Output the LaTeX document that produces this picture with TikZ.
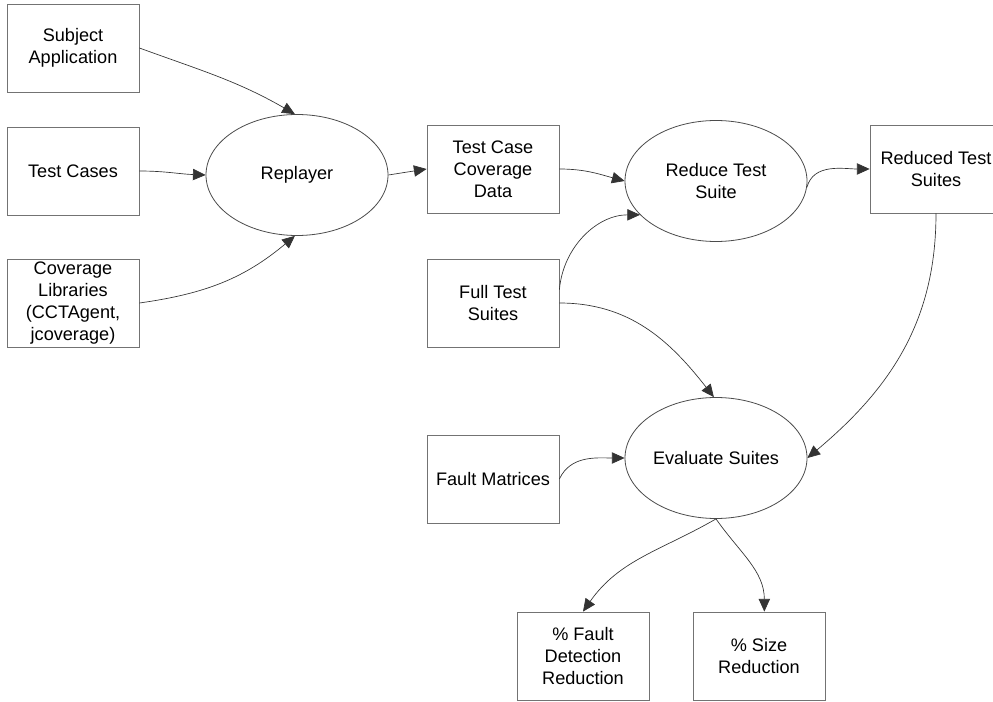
\documentclass[tikz,border=0pt]{standalone}
\usepackage{fontspec}
\setmainfont{Liberation Sans}
\usetikzlibrary{shapes.geometric,arrows.meta}
\begin{document}
\begin{tikzpicture}[x=0.75pt,y=-0.75pt,
  txt/.style={align=center,font=\fontsize{13.6}{16.5}\selectfont},
  box/.style={txt,draw=black!55,line width=0.6pt,minimum width=99pt,minimum height=66pt,inner sep=0pt},
  proc/.style={txt,ellipse,draw=black!70,line width=0.6pt,minimum width=136.5pt,minimum height=90.75pt,inner sep=0pt},
  conn/.style={draw=black!80,line width=0.5pt,-{Triangle[length=9.5pt,width=8.5pt]}}]
\useasboundingbox (0,0) rectangle (993,702);
\clip (0,0) rectangle (993,702);
\fill[white] (0,0) rectangle (993,702);
% boxes
\node[box] (subj) at (73,48) {Subject\\Application};
\node[box] (tc) at (73,171) {Test Cases};
\node[box] (cov) at (73,303) {Coverage\\Libraries\\(CCTAgent,\\jcoverage)};
\node[box] (tccd) at (493,169) {Test Case\\Coverage\\Data};
\node[box] (fts) at (493,303) {Full Test\\Suites};
\node[box] (redts) at (936,169) {Reduced Test\\Suites};
\node[box] (fm) at (493,479) {Fault Matrices};
\node[box] (fdr) at (583,656) {\% Fault\\Detection\\Reduction};
\node[box] (sr) at (759,656) {\% Size\\Reduction};
% processes
\node[proc] (repl) at (297,175) {Replayer};
\node[proc] (rts) at (716,181) {Reduce Test\\Suite};
\node[proc] (es) at (716,458) {Evaluate Suites};
% connectors
\draw[conn] (subj.east) to[out=-20,in=150] (repl.92);
\draw[conn] (tc.east) to[out=0,in=178] (repl.west);
\draw[conn] (cov.east) to[out=8,in=-140] (repl.-92);
\draw[conn] (repl.east) -- (tccd.west);
\draw[conn] (tccd.east) to[out=0,in=165] (rts.west);
\draw[conn] ([yshift=10pt]fts.east) to[out=85,in=180] (rts.204);
\draw[conn] (rts.-4) to[out=75,in=180] (redts.west);
\draw[conn] (fts.east) to[out=0,in=128] (es.92);
\draw[conn] (redts.south) to[out=-90,in=40] (es.east);
\draw[conn] (fm.east) to[out=65,in=180] (es.west);
\draw[conn] (es.south) to[out=-150,in=55] (fdr.north);
\draw[conn] (es.south) to[out=-55,in=90] ([xshift=4pt]sr.north);
\end{tikzpicture}
\end{document}
